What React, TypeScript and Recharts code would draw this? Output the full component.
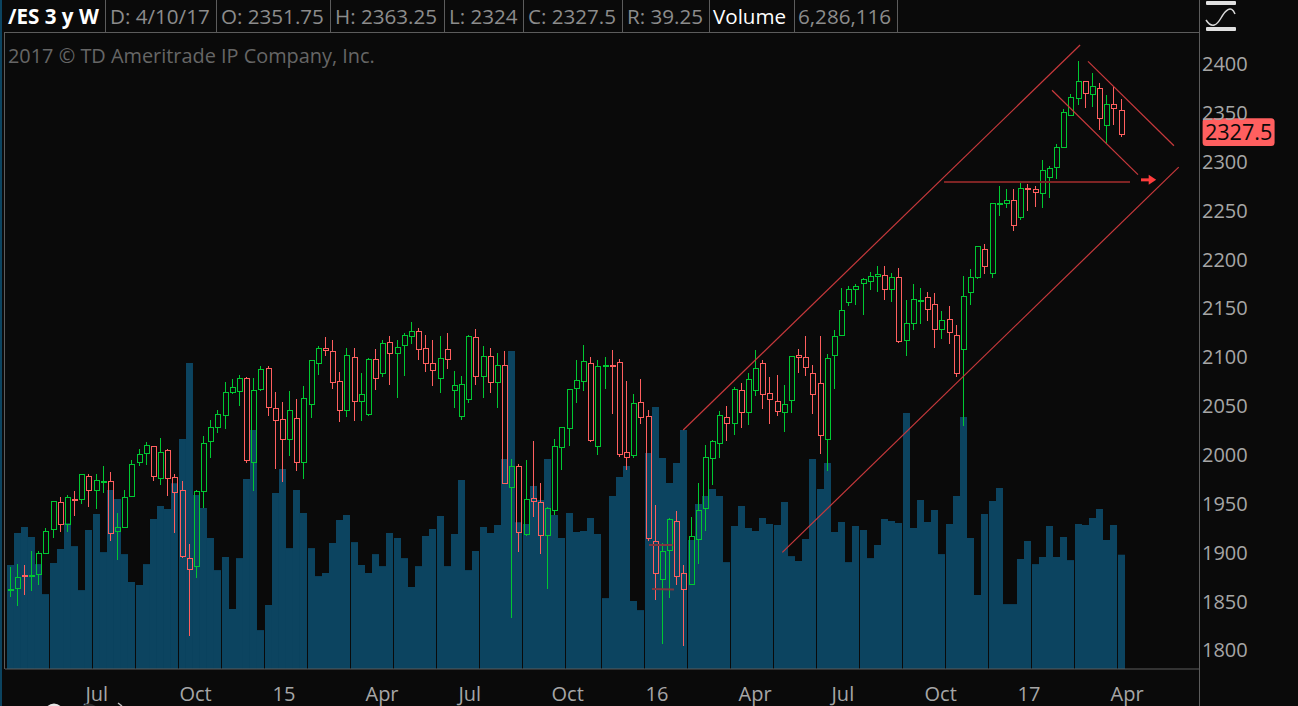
import React from "react";
import { Bar, ComposedChart, ReferenceDot, ReferenceLine, XAxis, YAxis } from "recharts";

const opens = [
  1860,1862.7,1876.2,1875.2,1877,1898.5,
  1922.4,1950,1928.2,1953.9,1953.1,1976.6,
  1963,1971,1971.5,1920.4,1924.4,1956.2,
  1991,2000.2,2007.4,1974.6,2003.3,1975.6,
  1962.3,1892.7,1884.5,1961.3,2012.5,2026.8,
  2039.1,2062.6,2063.7,2077,1991,2065.7,
  2087.2,2046.3,2035,2014.5,2036,1991,
  2050.3,2092.3,2107.7,2104.6,2073.9,2044.2,
  2098.4,2053.4,2040.1,2096.4,2082.1,2113.8,
  2102.5,2110.7,2119.9,2125.1,2107.7,2092.3,
  2077,2106.6,2064.7,2038.1,2055.5,2118.9,
  2079,2099.5,2072.9,2090.3,1965.4,1986.9,
  1917.3,1954.1,1950,1916.2,1941.9,2006.3,
  2025.8,2066.7,2073.9,2092.3,2007.4,
  2090.1,2090.4,2093.3,2001.9,1998.1,2052.4,
  2038.1,1910.1,1871.2,1900.9,1930.6,1877.4,
  1866.1,1912.2,1943.9,1995.1,2010.4,2037,
  2030.9,2064.7,2042.2,2064.7,2092.3,2061.6,
  2053.4,2042.2,2054.4,2100.5,2098.4,2082,
  2071.8,2014.5,2100.4,2120.9,2154.7,2168,
  2174.1,2176.2,2181.3,2182.3,2168,2180.3,
  2115.8,2133.2,2156.6,2159.8,2152.6,2127.1,
  2137.3,2120.9,2106.6,2164.9,2180.3,2208.9,
  2184.4,2255.6,2256.1,2259.1,2241.7,2271.9,
  2270.4,2266.3,2282.7,2292.9,2314.1,2346.8,
  2363.6,2381,2367.6,2373.8,2336.6,2357.4,
  2351.75,
];

const closes = [
  1861,1873.3,1875.2,1876.2,1897.8,1920.4,
  1951.1,1928.2,1955.2,1952.9,1978.7,1963,
  1972.6,1972,1918.3,1924.4,1955.2,1988.9,
  1999.2,2008.4,1976.6,2001.2,1975.3,1960.3,
  1894.8,1881.5,1961.3,2010.4,2026.8,2040.1,
  2062.6,2067.7,2077,1993,2064.7,2086.2,
  2047.3,2034,2014.5,2044.2,1991,2056.5,
  2095.4,2107.7,2105.6,2072.9,2044.2,2100.5,
  2053.4,2060.6,2096.4,2077,2112.8,2102.5,
  2108.7,2121,2125.1,2106.6,2092.3,2085.1,
  2097.4,2096.4,2069.8,2070.8,2119.9,2079,
  2099.5,2072.9,2090.3,1969.5,1986.9,1919.3,
  1953.1,1951.1,1916.2,1943.9,2007.3,2026.8,
  2065.7,2074.9,2094.4,2013.5,2089.2,
  2091.1,2089.4,1999.2,1996.1,2051.4,2037,
  1913.9,1877.4,1899.9,1932.6,1874.3,1861,
  1915.2,1941.8,1996.1,2012.5,2039.1,2030.9,
  2065.7,2042.2,2075.9,2087.2,2060.6,2055.5,
  2043.2,2050.3,2099.5,2098.5,2088.2,2060.5,
  2018.6,2097.4,2120.6,2146.5,2168,2171.1,
  2178.2,2181.3,2183.4,2168,2180.3,2114.8,
  2133.2,2157.8,2157.6,2147.5,2127.1,2136.3,
  2124,2082,2160.8,2180.3,2212,2191.5,
  2256.1,2256.6,2259.1,2233.6,2271.4,2270.9,
  2267.3,2289.9,2291.9,2313.4,2349.2,2364.6,
  2381,2368.7,2375.8,2343.1,2357.4,2353.3,
  2327.5,
];

const highs = [
  1883.5,1886.9,1885.5,1900.2,1899.9,1923.4,
  1951.1,1955.2,1957.5,1961.6,1978.7,1978.7,
  1978.7,1987.2,1981.1,1939.1,1962.7,1993,
  2004.6,2011.5,2007.4,2015.9,2004.3,1978.7,
  1971.5,1907.4,1962.7,2017.6,2034.3,2044.5,
  2073.2,2075.9,2080,2078,2077.3,2089.6,
  2089.2,2063,2052.7,2064,2055.8,2069.1,
  2095.4,2109.7,2118.9,2116.2,2083.4,2108,
  2108,2082.1,2097.4,2106.6,2115.9,2119.9,
  2115.9,2123,2134.3,2128.1,2121,2115.9,
  2119.9,2123,2084.5,2079.3,2121,2127.1,
  2109.7,2108,2102.5,2104.6,1994.4,1988.9,
  1993.4,2012.8,1969.8,1944.9,2014.5,2026.8,
  2065.7,2095.7,2110.7,2098.5,2095.7,
  2098.5,2106,2096.8,2073.9,2060.6,2075.9,
  2044.5,1947.3,1908.1,1934,1940.8,1885.9,
  1934.7,1969.5,2008.4,2013.5,2043.5,2048.6,
  2067.7,2072.2,2082.4,2106,2095.7,2078.3,
  2080.4,2069.8,2099.8,2107,2120.2,2090.2,
  2119.9,2101.5,2126.4,2169,2171.1,2173.1,
  2179.3,2185.4,2191.5,2191.5,2184.4,2189.5,
  2156.7,2173.1,2169,2164.9,2163.9,2145.5,
  2150.9,2131.2,2181.3,2188.5,2212,2214.1,
  2256.1,2273.8,2270.7,2270.7,2277.6,2275.9,
  2273.8,2300.4,2294.3,2316.5,2352.3,2367.6,
  2401.4,2381,2389.5,2378.9,2367,2375.5,
  2363.25,
];

const lows = [
  1853.5,1844.3,1855.2,1859.6,1865.4,1897.2,
  1913.5,1920,1920,1936.4,1948.7,1945.6,
  1943.6,1959.9,1910.5,1891,1924,1955.8,
  1987.6,1988.6,1972.2,1968.1,1956.9,1919,
  1893.1,1813.6,1872.9,1944.2,1995.8,2021.3,
  2025.4,2061.3,2049,1990.6,1962,2064.3,
  2038.7,1984.5,1971.2,1997.8,1982.4,1974.3,
  2036.7,2080.7,2100.2,2066.4,2032.6,2037.7,
  2033.6,2033.6,2038.7,2065.4,2078.7,2070.5,
  2057.2,2079.7,2112.4,2096.1,2083.8,2069.4,
  2062.3,2086.9,2046.9,2034.6,2052,2070.5,
  2057.2,2062.3,2046.9,1968.5,1832,1899.5,
  1915.9,1935.4,1897.5,1861.7,1937.1,1983.1,
  2008,2052,2064.3,2012.1,1998.5,
  2066.4,2040.8,1996.8,1983.5,1995.8,2030.6,
  1910.5,1850.4,1805.4,1852.5,1865.4,1803.3,
  1866.1,1887.3,1921,1968.1,1995.8,2012.8,
  2019.3,2026.5,2029.5,2059.2,2045.9,2030.6,
  2038.4,2022.4,2041.8,2082.8,2079.6,2040.7,
  1999.8,1982.4,2066.3,2120.9,2151.3,2152.3,
  2142.1,2167.7,2165.6,2157.4,2155.4,2113.4,
  2100.1,2126.7,2132.9,2135.9,2108.3,2117.5,
  2112.4,2078.6,2028.5,2152.3,2178.9,2184,
  2179.3,2243.5,2251.6,2227.8,2239.4,2248.6,
  2252.7,2251.6,2261.9,2281,2313.4,2346.2,
  2357.1,2354,2355,2331.5,2317.5,2336.3,
  2324,
];

// weekly volume, in millions of contracts
const volumes = [
  5.72,7.48,7.81,7.26,5.77,4.12,
  5.83,6.6,8.01,6.76,4.34,7.64,
  8.52,6.43,9.84,9.35,6.32,4.78,
  4.62,5.77,8.25,8.96,8.8,10.21,
  12.65,16.83,9.57,8.85,7.2,5.44,
  6.16,3.3,6.1,10.45,13.14,2.14,
  3.52,9.68,11,6.65,9.84,8.58,
  6.65,5.11,5.28,6.93,8.19,8.47,
  6.98,5.72,5.28,6.32,5.66,7.48,
  7.2,6.1,4.51,5.66,7.31,7.7,
  8.41,5.66,7.42,10.39,5.44,6.49,
  7.81,7.48,7.92,11.55,17.49,8.07,
  7.97,10.06,9.29,11.55,8.47,7.2,
  8.58,7.53,7.59,8.3,7.42,
  3.9,9.51,10.56,11.16,3.74,3.24,
  11.88,14.41,11.6,10.23,11.33,13.14,
  7.09,9.07,9.51,9.9,9.51,5.88,
  7.86,8.96,7.75,7.59,8.3,7.97,
  7.92,9.18,6.21,5.94,7.15,11.55,
  9.9,11.33,7.53,8.08,5.88,7.86,
  7.64,6.1,6.82,8.25,8.14,8.03,
  14.08,7.75,9.29,8.08,8.74,6.32,
  7.97,9.51,13.86,7.2,4.07,8.52,
  9.24,9.95,3.57,3.57,6.05,7.04,
  5.77,6.16,7.86,6.16,7.26,5.99,
  7.97,7.92,8.3,8.8,7.09,7.92,
  6.286,
];

const priceTicks = [1800,1850,1900,1950,2000,2050,2100,2150,2200,2250,2300,2350,2400];
const monthLabels = ["Jul","Oct","15","Apr","Jul","Oct","16","Apr","Jul","Oct","17","Apr"];
const monthBars = [11,24,37,50,63,76,89,102,115,128,141,154];

const headerCells = [
  { text: "/ES 3 y W", left: 8, color: "#ffffff", weight: 700 },
  { text: "D: 4/10/17", left: 110, color: "#8c8c8c", weight: 400 },
  { text: "O: 2351.75", left: 221, color: "#8c8c8c", weight: 400 },
  { text: "H: 2363.25", left: 335, color: "#8c8c8c", weight: 400 },
  { text: "L: 2324", left: 449, color: "#8c8c8c", weight: 400 },
  { text: "C: 2327.5", left: 528, color: "#8c8c8c", weight: 400 },
  { text: "R: 39.25", left: 627, color: "#8c8c8c", weight: 400 },
  { text: "Volume", left: 713, color: "#ffffff", weight: 400 },
  { text: "6,286,116", left: 798, color: "#8c8c8c", weight: 400 },
];
const headerDividers = [105, 216, 330, 444, 523, 622, 709, 794, 897];

// Hand-drawn annotations, [slot, price] pairs.
const channelLines = [
  [[96.1, 2024.1], [152.8, 2418.1]],
  [[110.26, 1898.9], [166.89, 2293.2]],
  [[148.79, 2371.8], [161.07, 2285.4]],
  [[153.93, 2401.4], [166.21, 2315]],
];
const supportLine = [[133.36, 2277.9], [159.93, 2277.9]];
const shortLines = [
  [[91.21, 1906.4], [94.59, 1906.4]],
  [[91.64, 1861.3], [94.79, 1860.8]],
];
const arrowShaft = [[161.5, 2280.1], [162.79, 2280.1]];
const lastClose = 2327.5;

const BG = "#0a0a0a";
const FRAME = "#5c5c5c";
const VOL = "#0c4460";
const GREEN = "#00c832";
const RED = "#ff5f5f";
const FONT = "'Open Sans', sans-serif";

// The weekly bars sit in blocks of six (one block of five) with a hairline gap between blocks.
const blockOf = (i: number) => (i < 78 ? Math.floor(i / 6) : i < 83 ? 13 : 14 + Math.floor((i - 83) / 6));
const slotOf = (i: number) => i + blockOf(i) / 7;

const rows = opens.map((open, i) => ({
  slot: slotOf(i),
  open,
  close: closes[i],
  high: highs[i],
  low: lows[i],
  volume: volumes[i],
}));

const tickSlots = monthBars.map(slotOf);

function Candle(props: any) {
  const { x, y, width, height, payload } = props;
  if (payload == null) return null;
  const { open, close, high, low } = payload;
  const top = Math.min(y, y + height);
  const k = Math.abs(height) / Math.max(high - low, 0.01);
  const at = (p: number) => top + (high - p) * k;
  const left = Math.round(x);
  const color = close >= open ? GREEN : RED;
  const wickX = left + 3.5;
  const bodyTop = Math.round(at(Math.max(open, close)));
  const bodyBot = Math.max(bodyTop + 1, Math.round(at(Math.min(open, close))));
  const wickTop = Math.round(at(high));
  const wickBot = Math.round(at(low));
  return (
    <g shapeRendering="crispEdges">
      {wickTop < bodyTop && <line x1={wickX} x2={wickX} y1={wickTop} y2={bodyTop} stroke={color} strokeWidth={1} />}
      {wickBot > bodyBot && <line x1={wickX} x2={wickX} y1={bodyBot + 1} y2={wickBot} stroke={color} strokeWidth={1} />}
      <rect x={left + 1.5} y={bodyTop + 0.5} width={5} height={bodyBot - bodyTop} fill="none" stroke={color} strokeWidth={1} />
    </g>
  );
}

function PriceTick(props: any) {
  const { x, y, payload } = props;
  return (
    <text x={x} y={y + 8.5} fill="#a6a6a6" fontFamily={FONT} fontSize={20}>
      {payload.value}
    </text>
  );
}

function MonthTick(props: any) {
  const { x, y, payload, index } = props;
  return (
    <text x={x - 3} y={y + 24} fill="#a6a6a6" fontFamily={FONT} fontSize={20} textAnchor="start">
      {monthLabels[index ?? tickSlots.indexOf(payload.value)]}
    </text>
  );
}

function LastPriceTag(props: any) {
  const { cx, cy } = props;
  return (
    <g>
      <rect x={cx} y={cy - 15.2} width={72} height={27.6} rx={3.5} fill={RED} />
      <text x={cx + 36} y={cy + 6.5} textAnchor="middle" fill="#0a0a0a" fontFamily={FONT} fontSize={21.6}>
        {lastClose}
      </text>
    </g>
  );
}

function ArrowHead(props: any) {
  const { cx, cy } = props;
  return <polygon points={`${cx},${cy - 5} ${cx + 7.5},${cy} ${cx},${cy + 5}`} fill="#ff3d3d" />;
}

function segment(pts: number[][]) {
  return pts.map(([x, y]) => ({ x, y }));
}

export default function App() {
  return (
    <div style={{ position: "fixed", left: 0, top: 0, width: 1298, height: 706, background: BG, overflow: "hidden", fontFamily: FONT }}>
      <div style={{ position: "absolute", left: 0, top: 0, width: 2, height: 706, background: VOL }} />
      <div style={{ position: "absolute", left: 4, top: 32, width: 1195, height: 1, background: FRAME }} />
      <div style={{ position: "absolute", left: 4, top: 32, width: 1, height: 637, background: FRAME }} />
      <div style={{ position: "absolute", left: 1199, top: 0, width: 1, height: 706, background: FRAME }} />
      <ComposedChart
        width={1298}
        height={706}
        data={rows}
        margin={{ top: 33, right: 0, bottom: 0, left: 5 }}
        style={{ position: "absolute", left: 0, top: 0 }}
      >
        <XAxis
          xAxisId="price"
          dataKey="slot"
          type="number"
          scale="linear"
          domain={[-0.7857, 169.7857]}
          allowDataOverflow
          ticks={tickSlots}
          interval={0}
          height={37}
          tickLine={false}
          axisLine={{ stroke: FRAME }}
          tick={<MonthTick />}
        />
        <XAxis xAxisId="volume" dataKey="slot" type="number" scale="linear" domain={[-0.7857, 169.7857]} allowDataOverflow hide />
        <YAxis
          yAxisId="price"
          orientation="right"
          width={99}
          domain={[1779.5, 2430.4]}
          allowDataOverflow
          ticks={priceTicks}
          interval={0}
          tickLine={false}
          tickSize={0}
          tickMargin={3}
          axisLine={false}
          tick={<PriceTick />}
        />
        <YAxis yAxisId="volume" domain={[0, 34.98]} allowDataOverflow hide />
        <Bar xAxisId="volume" yAxisId="volume" dataKey="volume" barSize={7} fill={VOL} isAnimationActive={false} />
        <Bar
          xAxisId="price"
          yAxisId="price"
          dataKey={(r: any) => [r.low, r.high]}
          barSize={7}
          shape={<Candle />}
          isAnimationActive={false}
        />
        {channelLines.map((pts, i) => (
          <ReferenceLine key={i} xAxisId="price" yAxisId="price" segment={segment(pts)} stroke="#c8393c" strokeWidth={1.2} ifOverflow="visible" />
        ))}
        <ReferenceLine xAxisId="price" yAxisId="price" segment={segment(supportLine)} stroke="#7e2424" strokeWidth={2} ifOverflow="visible" />
        {shortLines.map((pts, i) => (
          <ReferenceLine key={i} xAxisId="price" yAxisId="price" segment={segment(pts)} stroke="#7e3640" strokeWidth={2} ifOverflow="visible" />
        ))}
        <ReferenceLine xAxisId="price" yAxisId="price" segment={segment(arrowShaft)} stroke="#ff3d3d" strokeWidth={3} ifOverflow="visible" />
        <ReferenceDot xAxisId="price" yAxisId="price" x={162.6} y={2280.1} ifOverflow="visible" shape={<ArrowHead />} />
        <ReferenceDot xAxisId="price" yAxisId="price" x={170.3} y={lastClose} ifOverflow="visible" shape={<LastPriceTag />} />
      </ComposedChart>
      {headerCells.map((c) => (
        <span
          key={c.left}
          style={{ position: "absolute", left: c.left, top: 2, fontSize: 20.6, lineHeight: "28px", color: c.color, fontWeight: c.weight, whiteSpace: "nowrap" }}
        >
          {c.text}
        </span>
      ))}
      {headerDividers.map((x) => (
        <div key={x} style={{ position: "absolute", left: x, top: 0, width: 1, height: 32, background: FRAME }} />
      ))}
      <span style={{ position: "absolute", left: 8, top: 42, fontSize: 19.9, lineHeight: "28px", color: "#666666", whiteSpace: "nowrap" }}>
        2017 © TD Ameritrade IP Company, Inc.
      </span>
      <svg width={1298} height={706} style={{ position: "absolute", left: 0, top: 0, pointerEvents: "none" }}>
        <rect x={1206} y={1} width={30} height={4} rx={1} fill="#e0e0e0" />
        <rect x={1206} y={27} width={30} height={4} rx={1} fill="#e0e0e0" />
        <path d="M1206 20 C1212 29 1217 25 1221 18 C1225 11 1231 4 1235 14" fill="none" stroke="#d8d8d8" strokeWidth={1.5} />
        <circle cx={54} cy={713} r={9.5} fill="#e6e6e6" />
        <circle cx={89} cy={713} r={9.5} fill="#2b2b2b" />
        <path d="M118 703 L122 706" stroke="#bbbbbb" strokeWidth={1.5} />
      </svg>
    </div>
  );
}
